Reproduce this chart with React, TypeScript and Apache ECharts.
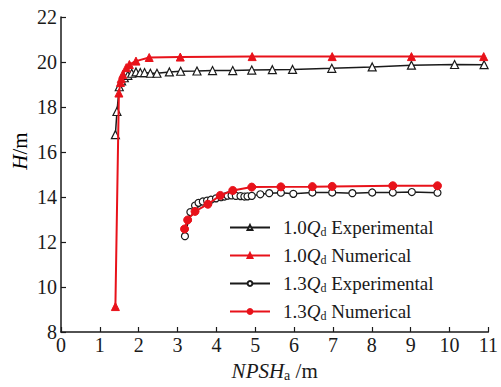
import React, { useEffect, useRef } from "react";
import * as echarts from "echarts";

const exp10X = [1.40, 1.44, 1.50, 1.56, 1.63, 1.72, 1.82, 1.93, 2.04, 2.15, 2.30, 2.47, 2.79, 3.08, 3.50, 3.90, 4.42, 4.91, 5.44, 5.96, 6.97, 8.01, 9.02, 10.13, 10.89];
const exp10Y = [16.77, 17.8, 18.9, 19.16, 19.3, 19.41, 19.5, 19.56, 19.53, 19.53, 19.5, 19.5, 19.56, 19.59, 19.6, 19.62, 19.62, 19.64, 19.66, 19.67, 19.72, 19.78, 19.86, 19.89, 19.88];

const num10X = [1.40, 1.49, 1.53, 1.55, 1.59, 1.68, 1.76, 1.93, 2.27, 3.07, 4.92, 6.98, 9.02, 10.88];
const num10Y = [9.13, 18.62, 19.09, 19.26, 19.45, 19.75, 19.89, 20.04, 20.2, 20.22, 20.24, 20.24, 20.24, 20.24];

const exp13X = [3.19, 3.33, 3.45, 3.54, 3.65, 3.76, 3.86, 3.99, 4.12, 4.21, 4.29, 4.39, 4.50, 4.62, 4.72, 4.80, 4.91, 5.13, 5.36, 5.66, 5.98, 6.47, 6.98, 7.50, 8.01, 8.54, 9.03, 9.69];
const exp13Y = [12.26, 13.33, 13.62, 13.74, 13.8, 13.84, 13.88, 13.94, 13.99, 14.02, 14.06, 14.07, 14.05, 14.04, 14.02, 14.03, 14.05, 14.12, 14.17, 14.19, 14.14, 14.2, 14.2, 14.17, 14.2, 14.2, 14.22, 14.19];

const num13X = [3.18, 3.26, 3.45, 3.78, 4.10, 4.42, 4.91, 5.66, 6.47, 6.98, 8.54, 9.69];
const num13Y = [12.58, 12.98, 13.36, 13.68, 14.07, 14.29, 14.44, 14.45, 14.46, 14.47, 14.5, 14.5];

const seriesNames = ["1.0Qd Experimental", "1.0Qd Numerical", "1.3Qd Experimental", "1.3Qd Numerical"];
const legendLabels: Record<string, string> = {
  "1.0Qd Experimental": "{g|}{n|1.0}{i|Q}{s|d}{n| Experimental}",
  "1.0Qd Numerical": "{g|}{n|1.0}{i|Q}{s|d}{n| Numerical}",
  "1.3Qd Experimental": "{g|}{n|1.3}{i|Q}{s|d}{n| Experimental}",
  "1.3Qd Numerical": "{g|}{n|1.3}{i|Q}{s|d}{n| Numerical}",
};
const xAxisTitle = "{i|NPSH}{s|a}{n| /m}";
const yAxisTitle = "{i|H}{n|/m}";

const FONT = "'Liberation Serif', 'Times New Roman', serif";
const BLACK = "#1a1a1a";
const RED = "#e8121a";

const zip = (xs: number[], ys: number[]) => xs.map((x, i) => [x, ys[i]]);

export default function App() {
  const ref = useRef<HTMLDivElement>(null);
  useEffect(() => {
    if (!ref.current) return;
    const chart = echarts.init(ref.current, undefined, { renderer: "svg" });
    const richLegend = {
      n: { fontFamily: FONT, fontSize: 19, color: BLACK, lineHeight: 20 },
      i: { fontFamily: FONT, fontSize: 19, color: BLACK, fontStyle: "italic", lineHeight: 20 },
      s: { fontFamily: FONT, fontSize: 12, color: BLACK, lineHeight: 8, verticalAlign: "bottom" },
      g: { width: 8 },
    };
    const richName = {
      n: { fontFamily: FONT, fontSize: 21, color: BLACK, lineHeight: 22 },
      i: { fontFamily: FONT, fontSize: 21, color: BLACK, fontStyle: "italic", lineHeight: 22 },
      s: { fontFamily: FONT, fontSize: 14, color: BLACK, lineHeight: 8, verticalAlign: "bottom" },
    };
    chart.setOption({
      animation: false,
      backgroundColor: "#ffffff",
      grid: { left: 61, top: 17, right: 11, bottom: 52, containLabel: false },
      legend: {
        orient: "vertical",
        left: 229,
        top: 218,
        padding: 0,
        itemWidth: 40,
        itemHeight: 6,
        itemGap: 8.5,
        data: seriesNames,
        formatter: (name: string) => legendLabels[name],
        textStyle: { rich: richLegend },
      },
      graphic: [
        {
          type: "text",
          x: 20,
          y: 151,
          rotation: Math.PI / 2,
          style: {
            text: yAxisTitle,
            rich: richName,
            align: "center",
            verticalAlign: "middle",
          },
        },
      ],
      xAxis: {
        type: "value",
        min: 0,
        max: 11,
        interval: 1,
        name: xAxisTitle,
        nameLocation: "middle",
        nameGap: 28,
        nameTextStyle: { rich: richName },
        axisLine: { lineStyle: { color: BLACK, width: 1.5 } },
        axisTick: { inside: true, length: 5, lineStyle: { color: BLACK, width: 1.2 } },
        axisLabel: { fontFamily: FONT, fontSize: 20, color: BLACK, margin: 3 },
        splitLine: { show: false },
      },
      yAxis: {
        type: "value",
        min: 8,
        max: 22,
        interval: 2,
        axisLine: { show: true, lineStyle: { color: BLACK, width: 1.5 } },
        axisTick: { show: true, inside: true, length: 5, lineStyle: { color: BLACK, width: 1.2 } },
        axisLabel: { fontFamily: FONT, fontSize: 20, color: BLACK, margin: 4 },
        splitLine: { show: false },
      },
      series: [
        {
          name: seriesNames[0],
          type: "line",
          data: zip(exp10X, exp10Y),
          symbol: "triangle",
          symbolSize: 8,
          lineStyle: { color: BLACK, width: 1.5 },
          itemStyle: { color: "#ffffff", borderColor: BLACK, borderWidth: 1.2 },
          z: 2,
        },
        {
          name: seriesNames[1],
          type: "line",
          data: zip(num10X, num10Y),
          symbol: "triangle",
          symbolSize: 8,
          lineStyle: { color: RED, width: 2 },
          itemStyle: { color: RED, borderColor: RED, borderWidth: 1 },
          z: 3,
        },
        {
          name: seriesNames[2],
          type: "line",
          data: zip(exp13X, exp13Y),
          symbol: "circle",
          symbolSize: 7,
          lineStyle: { color: BLACK, width: 1.5 },
          itemStyle: { color: "#ffffff", borderColor: BLACK, borderWidth: 1.2 },
          z: 2,
        },
        {
          name: seriesNames[3],
          type: "line",
          data: zip(num13X, num13Y),
          symbol: "circle",
          symbolSize: 8,
          lineStyle: { color: RED, width: 2 },
          itemStyle: { color: RED, borderColor: RED, borderWidth: 1 },
          z: 3,
        },
      ],
    });
    return () => chart.dispose();
  }, []);
  return <div ref={ref} style={{ width: 501, height: 387, position: "absolute", left: 0, top: 0 }} />;
}
